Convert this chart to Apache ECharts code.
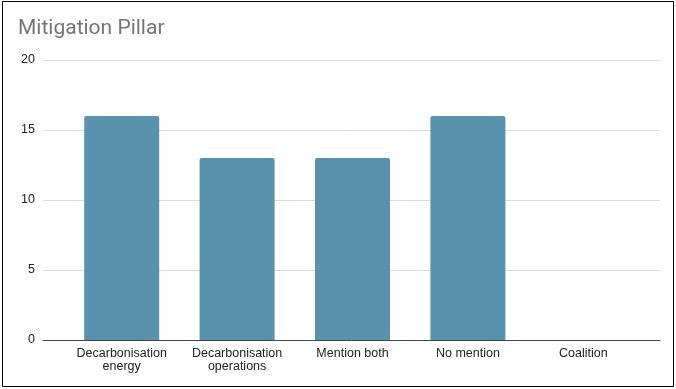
<!DOCTYPE html>
<html><head><meta charset="utf-8">
<script src="https://cdn.jsdelivr.net/npm/echarts@6/dist/echarts.min.js"></script>
<style>html,body{margin:0;padding:0;background:#fff}#c{width:676px;height:389px}</style>
</head><body><div id="c"></div>
<script>
var categories = ['Decarbonisation\nenergy', 'Decarbonisation\noperations', 'Mention both', 'No mention', 'Coalition'];
var values = [16, 13, 13, 16, 0];
var yTicks = [0, 5, 10, 15, 20];

var chart = echarts.init(document.getElementById('c'));
chart.setOption({
  animation: false,
  backgroundColor: '#fff',
  title: {text: 'Mitigation Pillar', left: 13, top: 13, textStyle: {fontFamily: 'Roboto, Arial', fontSize: 21, fontWeight: 'normal', color: '#757575'}},
  graphic: [{type: 'rect', shape: {x: 2.5, y: 1.5, width: 671, height: 385}, style: {fill: 'none', stroke: '#000', lineWidth: 1}, silent: true}],
  grid: [
    {left: 43, right: 16, top: 60, bottom: 49},
    {left: 64, right: 35, top: 60, bottom: 49}
  ],
  xAxis: [
    {gridIndex: 0, type: 'value', min: 0, max: 1, axisLabel: {show: false}, axisTick: {show: false}, splitLine: {show: false},
     axisLine: {show: true, onZero: false, lineStyle: {color: '#444', width: 1}}},
    {gridIndex: 1, type: 'category', data: categories, axisLine: {show: false}, axisTick: {show: false},
     axisLabel: {color: '#222', fontSize: 12.5, fontFamily: 'Arial, Liberation Sans', lineHeight: 13, margin: 7, interval: 0}}
  ],
  yAxis: [
    {gridIndex: 0, type: 'value', min: yTicks[0], max: yTicks[yTicks.length - 1], interval: 5,
     axisLine: {show: false}, axisTick: {show: false},
     axisLabel: {color: '#222', fontSize: 12.5, fontFamily: 'Arial, Liberation Sans', margin: 8},
     splitLine: {lineStyle: {color: '#dcdcdc', width: 1}}},
    {gridIndex: 1, type: 'value', min: yTicks[0], max: yTicks[yTicks.length - 1], interval: 5, show: false}
  ],
  series: [{
    type: 'bar', xAxisIndex: 1, yAxisIndex: 1, data: values, barWidth: 75,
    itemStyle: {color: '#5a91ad', borderRadius: [2, 2, 0, 0]}
  }]
});
</script></body></html>
